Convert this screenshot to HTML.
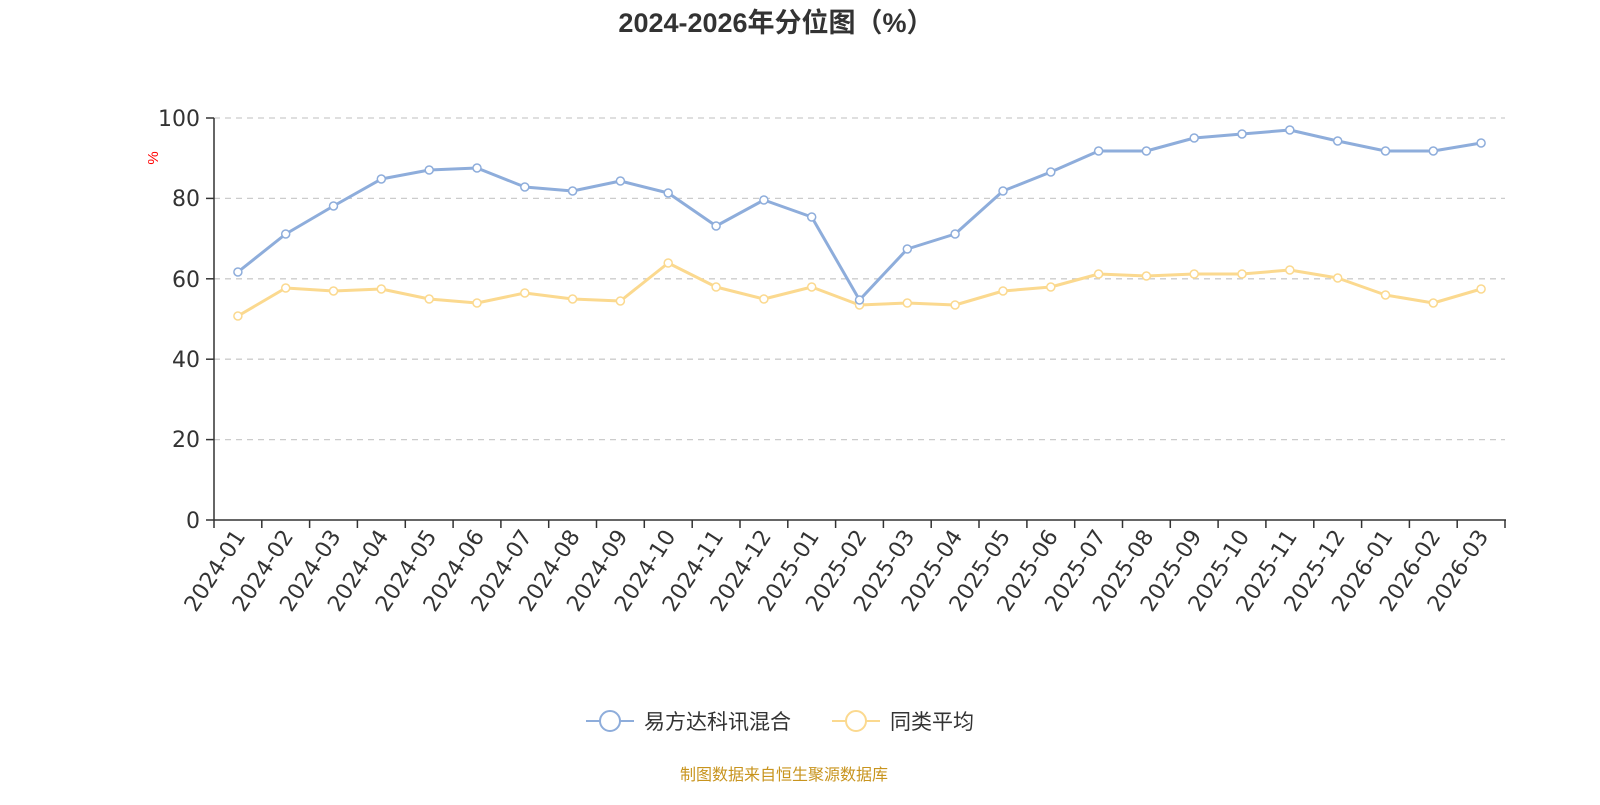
<!DOCTYPE html>
<html><head><meta charset="utf-8"><style>body{margin:0;background:#fff}</style></head>
<body>
<svg width="1600" height="800" xmlns="http://www.w3.org/2000/svg" font-family="'Liberation Sans','Noto Sans CJK SC',sans-serif">
<text x="776" y="32" text-anchor="middle" font-size="27" font-weight="bold" fill="#333">2024-2026年分位图（%）</text>
<g stroke="#ccc" stroke-dasharray="6,5" stroke-width="1.3">
<line x1="214" x2="1505" y1="118" y2="118"/><line x1="214" x2="1505" y1="198.4" y2="198.4"/><line x1="214" x2="1505" y1="278.8" y2="278.8"/><line x1="214" x2="1505" y1="359.2" y2="359.2"/><line x1="214" x2="1505" y1="439.6" y2="439.6"/>
</g>
<g stroke="#333" stroke-width="1.5"><line x1="214" x2="214" y1="118" y2="520"/><line x1="214" x2="1506" y1="520" y2="520"/>
<line x1="206" x2="214" y1="118" y2="118"/><line x1="206" x2="214" y1="198.4" y2="198.4"/><line x1="206" x2="214" y1="278.8" y2="278.8"/><line x1="206" x2="214" y1="359.2" y2="359.2"/><line x1="206" x2="214" y1="439.6" y2="439.6"/><line x1="206" x2="214" y1="520" y2="520"/>
<path d="M214 520v8M261.8 520v8M309.6 520v8M357.4 520v8M405.3 520v8M453.1 520v8M500.9 520v8M548.7 520v8M596.5 520v8M644.3 520v8M692.2 520v8M740 520v8M787.8 520v8M835.6 520v8M883.4 520v8M931.2 520v8M979 520v8M1026.9 520v8M1074.7 520v8M1122.5 520v8M1170.3 520v8M1218.1 520v8M1265.9 520v8M1313.8 520v8M1361.6 520v8M1409.4 520v8M1457.2 520v8M1505 520v8"/>
</g>
<g font-size="22" fill="#333" text-anchor="end" font-family="'DejaVu Sans',sans-serif">
<text x="200" y="126">100</text><text x="200" y="206">80</text><text x="200" y="287">60</text><text x="200" y="367">40</text><text x="200" y="447">20</text><text x="200" y="528">0</text>
</g>
<text x="158" y="158" font-size="15" fill="red" transform="rotate(-90 158 158)" text-anchor="middle">%</text>
<g font-size="22" fill="#333" text-anchor="end" font-family="'DejaVu Sans',sans-serif">
<text x="246" y="536" transform="rotate(-57 246 536)">2024-01</text>
<text x="294" y="536" transform="rotate(-57 294 536)">2024-02</text>
<text x="341.5" y="536" transform="rotate(-57 341.5 536)">2024-03</text>
<text x="389.3" y="536" transform="rotate(-57 389.3 536)">2024-04</text>
<text x="437.2" y="536" transform="rotate(-57 437.2 536)">2024-05</text>
<text x="485" y="536" transform="rotate(-57 485 536)">2024-06</text>
<text x="532.8" y="536" transform="rotate(-57 532.8 536)">2024-07</text>
<text x="580.6" y="536" transform="rotate(-57 580.6 536)">2024-08</text>
<text x="628.4" y="536" transform="rotate(-57 628.4 536)">2024-09</text>
<text x="676.2" y="536" transform="rotate(-57 676.2 536)">2024-10</text>
<text x="724.1" y="536" transform="rotate(-57 724.1 536)">2024-11</text>
<text x="771.9" y="536" transform="rotate(-57 771.9 536)">2024-12</text>
<text x="819.7" y="536" transform="rotate(-57 819.7 536)">2025-01</text>
<text x="867.5" y="536" transform="rotate(-57 867.5 536)">2025-02</text>
<text x="915.3" y="536" transform="rotate(-57 915.3 536)">2025-03</text>
<text x="963.1" y="536" transform="rotate(-57 963.1 536)">2025-04</text>
<text x="1011" y="536" transform="rotate(-57 1011 536)">2025-05</text>
<text x="1058.8" y="536" transform="rotate(-57 1058.8 536)">2025-06</text>
<text x="1106.6" y="536" transform="rotate(-57 1106.6 536)">2025-07</text>
<text x="1154.4" y="536" transform="rotate(-57 1154.4 536)">2025-08</text>
<text x="1202.2" y="536" transform="rotate(-57 1202.2 536)">2025-09</text>
<text x="1250" y="536" transform="rotate(-57 1250 536)">2025-10</text>
<text x="1297.8" y="536" transform="rotate(-57 1297.8 536)">2025-11</text>
<text x="1345.7" y="536" transform="rotate(-57 1345.7 536)">2025-12</text>
<text x="1393.5" y="536" transform="rotate(-57 1393.5 536)">2026-01</text>
<text x="1441.3" y="536" transform="rotate(-57 1441.3 536)">2026-02</text>
<text x="1489.1" y="536" transform="rotate(-57 1489.1 536)">2026-03</text>
</g>
<polyline fill="none" stroke="#fbd98f" stroke-width="3" stroke-linejoin="round" points="237.9,316 285.7,288 333.5,291 381.3,289 429.2,299 477,303 524.8,293 572.6,299 620.4,301 668.2,263 716.1,287 763.9,299 811.7,287 859.5,305 907.3,303 955.1,305 1003,291 1050.8,287 1098.6,274 1146.4,276 1194.2,274 1242,274 1289.8,270 1337.7,278 1385.5,295 1433.3,303 1481.1,289"/>
<g fill="#fff" stroke="#fbd98f" stroke-width="1.5">
<circle cx="237.9" cy="316" r="4"/><circle cx="285.7" cy="288" r="4"/><circle cx="333.5" cy="291" r="4"/><circle cx="381.3" cy="289" r="4"/><circle cx="429.2" cy="299" r="4"/><circle cx="477" cy="303" r="4"/><circle cx="524.8" cy="293" r="4"/><circle cx="572.6" cy="299" r="4"/><circle cx="620.4" cy="301" r="4"/><circle cx="668.2" cy="263" r="4"/><circle cx="716.1" cy="287" r="4"/><circle cx="763.9" cy="299" r="4"/><circle cx="811.7" cy="287" r="4"/><circle cx="859.5" cy="305" r="4"/><circle cx="907.3" cy="303" r="4"/><circle cx="955.1" cy="305" r="4"/><circle cx="1003" cy="291" r="4"/><circle cx="1050.8" cy="287" r="4"/><circle cx="1098.6" cy="274" r="4"/><circle cx="1146.4" cy="276" r="4"/><circle cx="1194.2" cy="274" r="4"/><circle cx="1242" cy="274" r="4"/><circle cx="1289.8" cy="270" r="4"/><circle cx="1337.7" cy="278" r="4"/><circle cx="1385.5" cy="295" r="4"/><circle cx="1433.3" cy="303" r="4"/><circle cx="1481.1" cy="289" r="4"/>
</g>
<polyline fill="none" stroke="#8eaddb" stroke-width="3" stroke-linejoin="round" points="237.9,272 285.7,234 333.5,206 381.3,179 429.2,170 477,168 524.8,187 572.6,191 620.4,181 668.2,193 716.1,226 763.9,200 811.7,217 859.5,300 907.3,249 955.1,234 1003,191 1050.8,172 1098.6,151 1146.4,151 1194.2,138 1242,134 1289.8,130 1337.7,141 1385.5,151 1433.3,151 1481.1,143"/>
<g fill="#fff" stroke="#8eaddb" stroke-width="1.5">
<circle cx="237.9" cy="272" r="4"/><circle cx="285.7" cy="234" r="4"/><circle cx="333.5" cy="206" r="4"/><circle cx="381.3" cy="179" r="4"/><circle cx="429.2" cy="170" r="4"/><circle cx="477" cy="168" r="4"/><circle cx="524.8" cy="187" r="4"/><circle cx="572.6" cy="191" r="4"/><circle cx="620.4" cy="181" r="4"/><circle cx="668.2" cy="193" r="4"/><circle cx="716.1" cy="226" r="4"/><circle cx="763.9" cy="200" r="4"/><circle cx="811.7" cy="217" r="4"/><circle cx="859.5" cy="300" r="4"/><circle cx="907.3" cy="249" r="4"/><circle cx="955.1" cy="234" r="4"/><circle cx="1003" cy="191" r="4"/><circle cx="1050.8" cy="172" r="4"/><circle cx="1098.6" cy="151" r="4"/><circle cx="1146.4" cy="151" r="4"/><circle cx="1194.2" cy="138" r="4"/><circle cx="1242" cy="134" r="4"/><circle cx="1289.8" cy="130" r="4"/><circle cx="1337.7" cy="141" r="4"/><circle cx="1385.5" cy="151" r="4"/><circle cx="1433.3" cy="151" r="4"/><circle cx="1481.1" cy="143" r="4"/>
</g>
<line x1="586" x2="634" y1="721" y2="721" stroke="#8eaddb" stroke-width="2"/><circle cx="610" cy="721" r="10" fill="#fff" stroke="#8eaddb" stroke-width="2"/>
<text x="644" y="729" font-size="21" fill="#333">易方达科讯混合</text>
<line x1="832" x2="880" y1="721" y2="721" stroke="#fbd98f" stroke-width="2"/><circle cx="856" cy="721" r="10" fill="#fff" stroke="#fbd98f" stroke-width="2"/>
<text x="890" y="729" font-size="21" fill="#333">同类平均</text>
<text x="784" y="780" text-anchor="middle" font-size="16" fill="#c8941e">制图数据来自恒生聚源数据库</text>
</svg>
</body></html>
